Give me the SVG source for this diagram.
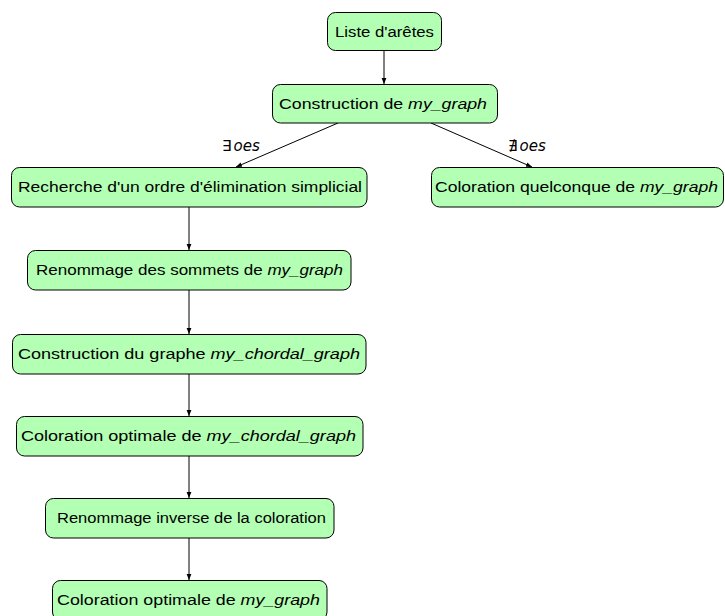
<svg xmlns="http://www.w3.org/2000/svg" width="725" height="616" viewBox="0 0 725 616">
<defs>
<marker id="ah" viewBox="0 0 10 10" refX="10" refY="5" markerWidth="6" markerHeight="6" orient="auto" markerUnits="userSpaceOnUse">
<path d="M0,1 L10,5 L0,9 z" fill="#000"/>
</marker>
<style>
.n rect{fill:#b3ffb3;stroke:#000;stroke-width:1}
.n text,.lbl{font-family:"Liberation Sans","DejaVu Sans",sans-serif;font-size:15.5px;fill:#000}
.lbl{font-family:"DejaVu Sans","Liberation Sans",sans-serif;font-size:15px}
.n text{text-anchor:start}
.i{font-style:italic}
.e line{stroke:#000;stroke-width:1;marker-end:url(#ah)}
</style>
</defs>
<rect width="725" height="616" fill="#fff"/>
<g class="e" id="edges">
<line x1="384" y1="50" x2="384" y2="84"/>
<line x1="338" y1="123" x2="236" y2="167"/>
<line x1="431" y1="123" x2="532" y2="167"/>
<line x1="189" y1="207" x2="189" y2="250"/>
<line x1="189" y1="290" x2="189" y2="334"/>
<line x1="189" y1="374" x2="189" y2="416"/>
<line x1="189" y1="456" x2="189" y2="498"/>
<line x1="189" y1="538" x2="189" y2="580"/>
<text class="lbl" x="222" y="151"><tspan>∃</tspan><tspan class="i" dx="2">oes</tspan></text>
<text class="lbl" x="508" y="151"><tspan>∄</tspan><tspan class="i" dx="2">oes</tspan></text>
</g>
<g class="n" id="n1"><rect x="327.5" y="12.5" width="114" height="38" rx="8"/><text x="335" y="37" textLength="99" lengthAdjust="spacingAndGlyphs">Liste d'arêtes</text></g>
<g class="n" id="n2"><rect x="272.5" y="84.5" width="225" height="38.5" rx="8"/><text x="279" y="109" textLength="208" lengthAdjust="spacingAndGlyphs">Construction de <tspan class="i">my_graph</tspan></text></g>
<g class="n" id="n3"><rect x="11.5" y="167.5" width="355.5" height="39.5" rx="8"/><text x="18" y="192" textLength="344" lengthAdjust="spacingAndGlyphs">Recherche d'un ordre d'élimination simplicial</text></g>
<g class="n" id="n4"><rect x="431.5" y="167.5" width="292" height="39.5" rx="8"/><text x="435" y="192" textLength="283" lengthAdjust="spacingAndGlyphs">Coloration quelconque de <tspan class="i">my_graph</tspan></text></g>
<g class="n" id="n5"><rect x="27.5" y="250.5" width="323.5" height="39.5" rx="8"/><text x="36" y="275" textLength="307" lengthAdjust="spacingAndGlyphs">Renommage des sommets de <tspan class="i">my_graph</tspan></text></g>
<g class="n" id="n6"><rect x="12.5" y="334.5" width="353.5" height="39.5" rx="8"/><text x="18" y="359" textLength="342" lengthAdjust="spacingAndGlyphs">Construction du graphe <tspan class="i">my_chordal_graph</tspan></text></g>
<g class="n" id="n7"><rect x="16.5" y="416.5" width="346.5" height="39.5" rx="8"/><text x="21" y="441" textLength="335" lengthAdjust="spacingAndGlyphs">Coloration optimale de <tspan class="i">my_chordal_graph</tspan></text></g>
<g class="n" id="n8"><rect x="45.5" y="498.5" width="288.5" height="39.5" rx="8"/><text x="57" y="523" textLength="269" lengthAdjust="spacingAndGlyphs">Renommage inverse de la coloration</text></g>
<g class="n" id="n9"><rect x="52.5" y="580.5" width="274.5" height="39.5" rx="8"/><text x="57" y="605" textLength="263" lengthAdjust="spacingAndGlyphs">Coloration optimale de <tspan class="i">my_graph</tspan></text></g>
</svg>
